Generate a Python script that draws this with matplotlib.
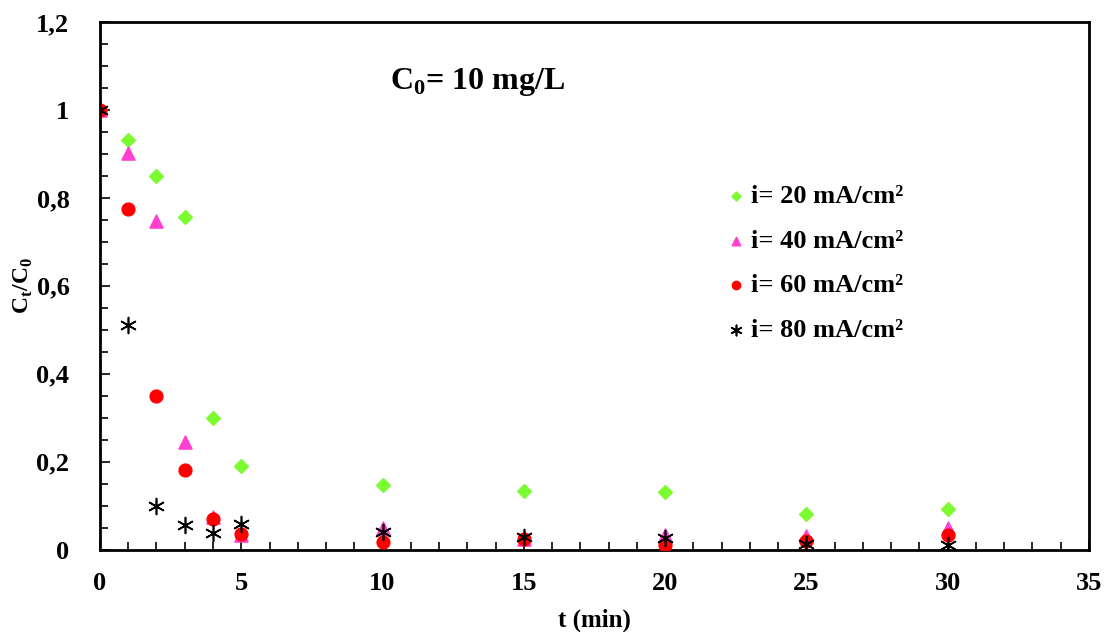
import numpy as np
import matplotlib.pyplot as plt
from matplotlib.ticker import MultipleLocator, FuncFormatter

plt.rcParams['font.family'] = ['Liberation Serif', 'DejaVu Serif']
plt.rcParams['font.weight'] = 'bold'

t = [0, 1, 2, 3, 4, 5, 10, 15, 20, 25, 30]
c_20 = [1.0, 0.932, 0.850, 0.756, 0.300, 0.190, 0.146, 0.134, 0.130, 0.080, 0.093]
c_40 = [1.0, 0.903, 0.747, 0.245, 0.075, 0.033, 0.049, 0.023, 0.034, 0.030, 0.050]
c_60 = [1.0, 0.775, 0.350, 0.181, 0.069, 0.036, 0.017, 0.025, 0.011, 0.019, 0.033]
c_80 = [1.0, 0.511, 0.100, 0.056, 0.038, 0.058, 0.040, 0.029, 0.027, 0.013, 0.011]

labels = ['i= 20 mA/cm²', 'i= 40 mA/cm²', 'i= 60 mA/cm²', 'i= 80 mA/cm²']

fig = plt.figure(figsize=(11.07, 6.32), dpi=100)
ax = fig.add_axes([0.0903, 0.1305, 0.8934, 0.8347])

ax.scatter(t, c_20, marker='D', s=50, color='#7CFC30', label=labels[0], zorder=3)
ax.scatter(t, c_40, marker='^', s=90, color='#FF40D0', label=labels[1], zorder=3)
ax.scatter(t, c_60, marker='o', s=85, color='#FF0000', label=labels[2], zorder=3)
ax.scatter(t, c_80, marker=(6, 2, 0), s=130, color='black', linewidths=1.2,
           label=labels[3], zorder=4)

ax.set_xlim(0, 35)
ax.set_ylim(0, 1.2)
ax.xaxis.set_major_locator(MultipleLocator(5))
ax.xaxis.set_minor_locator(MultipleLocator(1))
ax.yaxis.set_major_locator(MultipleLocator(0.2))
ax.yaxis.set_minor_locator(MultipleLocator(0.05))

def comma(v, pos):
    s = f'{v:.1f}'.rstrip('0').rstrip('.')
    return s.replace('.', ',')

ax.yaxis.set_major_formatter(FuncFormatter(comma))
ax.tick_params(which='both', direction='in', width=1.2, labelsize=19)
ax.tick_params(which='major', length=7)
ax.tick_params(which='minor', length=6)
ax.tick_params(axis='x', pad=16)
ax.tick_params(axis='y', pad=22)
for sp in ax.spines.values():
    sp.set_linewidth(2)

ax.set_xlabel('t (min)', fontsize=18, fontweight='bold')
ax.set_ylabel('C$_\\mathregular{t}$/C$_\\mathregular{0}$', fontsize=17, fontweight='bold')
ax.xaxis.set_label_coords(0.5, -0.112)
ax.yaxis.set_label_coords(-0.066, 0.5)

ax.text(0.293, 0.886, 'C$_\\mathregular{0}$= 10 mg/L', transform=ax.transAxes,
        fontsize=23, fontweight='bold', va='center')

leg = ax.legend(loc='upper left', bbox_to_anchor=(0.622, 0.712), frameon=False,
                fontsize=19, handlelength=0.8, handletextpad=0.15, labelspacing=0.8,
                markerscale=0.65, borderaxespad=0)
for txt in leg.get_texts():
    txt.set_fontweight('bold')

fig.savefig('out.png', dpi=100)
